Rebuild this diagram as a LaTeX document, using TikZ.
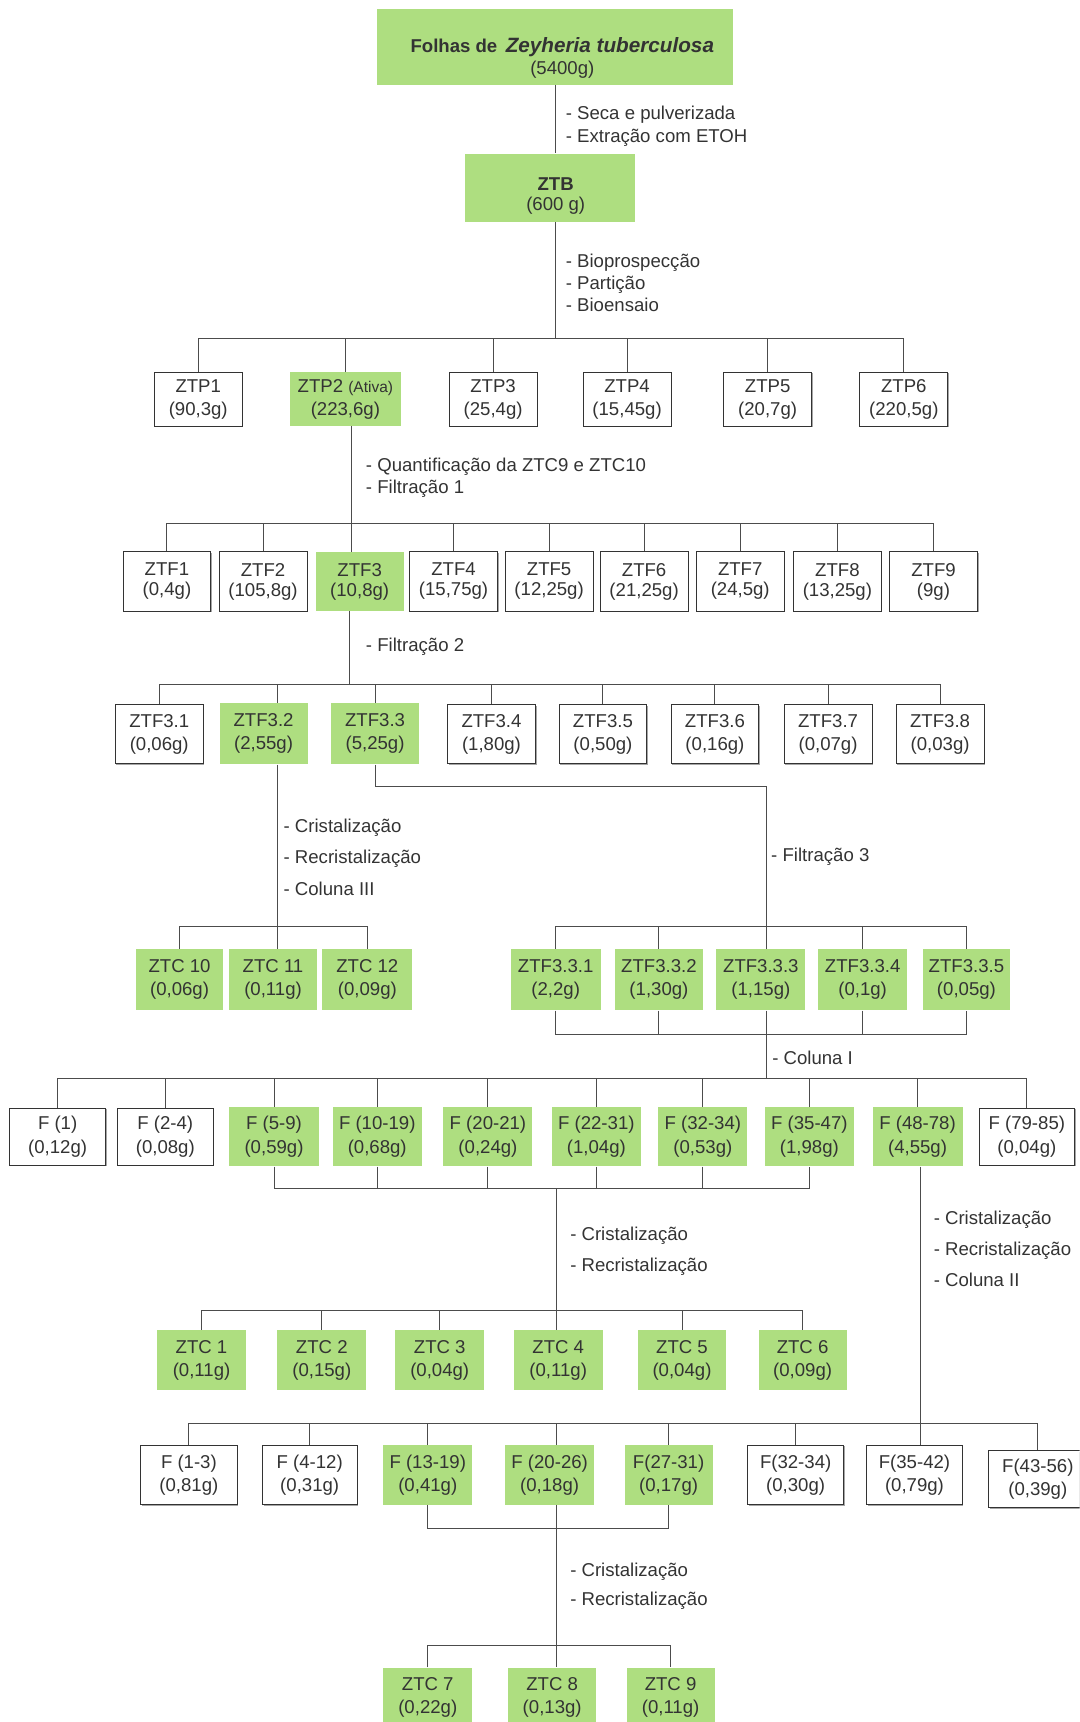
\documentclass[tikz,border=0pt]{standalone}
\usepackage{fontspec}
\setmainfont{Liberation Sans}
\usetikzlibrary{shadows}
\definecolor{leaf}{HTML}{AEDE80}
\definecolor{ink}{HTML}{333333}
\newlength{\pxu}
\setlength{\pxu}{0.0274cm}

\begin{document}
\begin{tikzpicture}[x=0.0274cm, y=-0.0274cm,
  box/.style={rectangle, minimum width=80\pxu, minimum height=54\pxu, inner sep=0pt, align=center, text=ink, font=\fontsize{13.2}{16.4}\selectfont},
  wbox/.style={box, draw=black!80, line width=0.6pt, fill=white, drop shadow={shadow xshift=0.8pt, shadow yshift=-0.8pt, fill=black!35, opacity=1}},
  gbox/.style={box, fill=leaf},
  tight/.style={font=\fontsize{13.2}{14.2}\selectfont},
  note/.style={anchor=west, inner sep=0pt, align=left, text=ink, font=\fontsize{13.2}{15.8}\selectfont},
  wide/.style={font=\fontsize{13.2}{22.2}\selectfont},
  link/.style={draw=black!70, line width=0.7pt}
]
  \useasboundingbox (0,0) rectangle (983,1568);
  \clip (0,0) rectangle (983,1568);

  % plant material and crude extract
  \node[gbox, minimum width=324\pxu, minimum height=69\pxu] (top) at (505,42.5) {};
  \node[box, minimum height=0pt, font=\fontsize{13.2}{15.6}\selectfont] (toptext) at (512,53) {{\bfseries Folhas de}\hspace{6pt}{\fontsize{14.7}{15.6}\selectfont\bfseries\itshape Zeyheria tuberculosa}\\(5400g)};
  \node[gbox, minimum width=155\pxu, minimum height=62\pxu] (ztb) at (501,171) {};
  \node[box, minimum height=0pt, font=\fontsize{13.2}{14.8}\selectfont] (ztbtext) at (506,178.5) {\textbf{ZTB}\\(600 g)};

  % partitions
  \node[wbox, minimum height=49\pxu] (ztp1) at (180.5,363.5) {ZTP1\\(90,3g)};
  \node[gbox, minimum height=49\pxu, minimum width=101\pxu] (ztp2) at (314.5,363.5) {ZTP2 {\fontsize{11}{12}\selectfont(Ativa)}\\(223,6g)};
  \node[wbox, minimum height=49\pxu] (ztp3) at (449,363.5) {ZTP3\\(25,4g)};
  \node[wbox, minimum height=49\pxu] (ztp4) at (571,363.5) {ZTP4\\(15,45g)};
  \node[wbox, minimum height=49\pxu] (ztp5) at (699,363.5) {ZTP5\\(20,7g)};
  \node[wbox, minimum height=49\pxu] (ztp6) at (823,363.5) {ZTP6\\(220,5g)};

  % filtration 1
  \node[wbox, tight] (ztf1) at (152,529.5) {ZTF1\\(0,4g)};
  \node[wbox, tight] (ztf2) at (239.5,529.5) {ZTF2\\(105,8g)};
  \node[gbox, tight] (ztf3) at (327.5,529.5) {ZTF3\\(10,8g)};
  \node[wbox, tight] (ztf4) at (413,529.5) {ZTF4\\(15,75g)};
  \node[wbox, tight] (ztf5) at (500,529.5) {ZTF5\\(12,25g)};
  \node[wbox, tight] (ztf6) at (586.5,529.5) {ZTF6\\(21,25g)};
  \node[wbox, tight] (ztf7) at (674,529.5) {ZTF7\\(24,5g)};
  \node[wbox, tight] (ztf8) at (762.5,529.5) {ZTF8\\(13,25g)};
  \node[wbox, tight] (ztf9) at (850,529.5) {ZTF9\\(9g)};

  % filtration 2
  \node[wbox] (ztf31) at (145,668.5) {ZTF3.1\\(0,06g)};
  \node[gbox, minimum height=56\pxu] (ztf32) at (240,668) {ZTF3.2\\(2,55g)};
  \node[gbox, minimum height=56\pxu] (ztf33) at (341.5,668) {ZTF3.3\\(5,25g)};
  \node[wbox] (ztf34) at (447.5,668.5) {ZTF3.4\\(1,80g)};
  \node[wbox] (ztf35) at (549,668.5) {ZTF3.5\\(0,50g)};
  \node[wbox] (ztf36) at (651,668.5) {ZTF3.6\\(0,16g)};
  \node[wbox] (ztf37) at (754,668.5) {ZTF3.7\\(0,07g)};
  \node[wbox] (ztf38) at (856,668.5) {ZTF3.8\\(0,03g)};

  % column III and filtration 3
  \node[gbox, minimum height=56\pxu] (ztc10) at (163.5,892) {ZTC 10\\(0,06g)};
  \node[gbox, minimum height=56\pxu] (ztc11) at (248.6,892) {ZTC 11\\(0,11g)};
  \node[gbox, minimum height=56\pxu, minimum width=82\pxu] (ztc12) at (334.5,892) {ZTC 12\\(0,09g)};
  \node[gbox, minimum height=56\pxu, minimum width=82\pxu] (ztf331) at (506,892) {ZTF3.3.1\\(2,2g)};
  \node[gbox, minimum height=56\pxu] (ztf332) at (600,892) {ZTF3.3.2\\(1,30g)};
  \node[gbox, minimum height=56\pxu, minimum width=81\pxu] (ztf333) at (692.8,892) {ZTF3.3.3\\(1,15g)};
  \node[gbox, minimum height=56\pxu, minimum width=81\pxu] (ztf334) at (785.5,892) {ZTF3.3.4\\(0,1g)};
  \node[gbox, minimum height=56\pxu] (ztf335) at (880,892) {ZTF3.3.5\\(0,05g)};

  % column I
  \node[wbox, minimum height=52\pxu, minimum width=87\pxu] (f1) at (52.5,1035) {F (1)\\(0,12g)};
  \node[wbox, minimum height=52\pxu, minimum width=87\pxu] (f2) at (150.5,1035) {F (2-4)\\(0,08g)};
  \node[gbox, minimum height=54\pxu, minimum width=82\pxu] (f3) at (249.5,1035) {F (5-9)\\(0,59g)};
  \node[gbox, minimum height=54\pxu, minimum width=81\pxu] (f4) at (343.5,1035) {F (10-19)\\(0,68g)};
  \node[gbox, minimum height=54\pxu, minimum width=81\pxu] (f5) at (444.3,1035) {F (20-21)\\(0,24g)};
  \node[gbox, minimum height=54\pxu, minimum width=81\pxu] (f6) at (543,1035) {F (22-31)\\(1,04g)};
  \node[gbox, minimum height=54\pxu, minimum width=81\pxu] (f7) at (640,1035) {F (32-34)\\(0,53g)};
  \node[gbox, minimum height=54\pxu, minimum width=81\pxu] (f8) at (737,1035) {F (35-47)\\(1,98g)};
  \node[gbox, minimum height=54\pxu, minimum width=82\pxu] (f9) at (835.5,1035) {F (48-78)\\(4,55g)};
  \node[wbox, minimum height=52\pxu, minimum width=87\pxu] (f10) at (935,1035) {F (79-85)\\(0,04g)};

  % crystals from column I
  \node[gbox, minimum height=55\pxu, minimum width=81\pxu] (ztc1) at (183.5,1238.5) {ZTC 1\\(0,11g)};
  \node[gbox, minimum height=55\pxu, minimum width=81\pxu] (ztc2) at (293,1238.5) {ZTC 2\\(0,15g)};
  \node[gbox, minimum height=55\pxu, minimum width=81\pxu] (ztc3) at (400.4,1238.5) {ZTC 3\\(0,04g)};
  \node[gbox, minimum height=55\pxu, minimum width=81\pxu] (ztc4) at (508.3,1238.5) {ZTC 4\\(0,11g)};
  \node[gbox, minimum height=55\pxu, minimum width=81\pxu] (ztc5) at (621,1238.5) {ZTC 5\\(0,04g)};
  \node[gbox, minimum height=55\pxu] (ztc6) at (730.8,1238.5) {ZTC 6\\(0,09g)};

  % column II
  \node[wbox, minimum width=88\pxu] (g1) at (172,1343) {F (1-3)\\(0,81g)};
  \node[wbox, minimum width=86\pxu] (g2) at (282,1343) {F (4-12)\\(0,31g)};
  \node[gbox, minimum width=81\pxu] (g3) at (389.5,1343) {F (13-19)\\(0,41g)};
  \node[gbox, minimum width=81\pxu] (g4) at (500.5,1343) {F (20-26)\\(0,18g)};
  \node[gbox] (g5) at (608.8,1343) {F(27-31)\\(0,17g)};
  \node[wbox, minimum width=87\pxu] (g6) at (724.5,1343) {F(32-34)\\(0,30g)};
  \node[wbox, minimum width=87\pxu] (g7) at (832.7,1343) {F(35-42)\\(0,79g)};
  \node[wbox, minimum width=90\pxu, minimum height=52\pxu] (g8) at (945,1347) {F(43-56)\\(0,39g)};

  % crystals from column II
  \node[gbox, minimum height=55\pxu, minimum width=81\pxu] (ztc7) at (389.5,1546) {ZTC 7\\(0,22g)};
  \node[gbox, minimum height=55\pxu] (ztc8) at (502.8,1546) {ZTC 8\\(0,13g)};
  \node[gbox, minimum height=55\pxu] (ztc9) at (610.6,1546) {ZTC 9\\(0,11g)};

  % step notes
  \node[note] (n1) at (515,115) {- Seca e pulverizada\\- Extração com ETOH};
  \node[note] (n2) at (515,257.5) {- Bioprospecção\\- Partição\\- Bioensaio};
  \node[note] (n3) at (333,435) {- Quantificação da ZTC9 e ZTC10\\- Filtração 1};
  \node[note] (n4) at (333,589) {- Filtração 2};
  \node[note, wide] (n5) at (258,780.5) {- Cristalização\\- Recristalização\\- Coluna III};
  \node[note] (n6) at (702,780) {- Filtração 3};
  \node[note] (n7) at (703,963) {- Coluna I};
  \node[note, wide] (n8) at (519,1139.5) {- Cristalização\\- Recristalização};
  \node[note, wide] (n9) at (850,1137) {- Cristalização\\- Recristalização\\- Coluna II};
  \node[note, font=\fontsize{13.2}{21}\selectfont] (n10) at (519,1444.5) {- Cristalização\\- Recristalização};

  % bar levels and trunks
  \coordinate (bZTP) at (0,308);
  \coordinate (bZTF) at (0,477);
  \coordinate (bF3) at (0,623);
  \coordinate (kF33) at (0,716.6);
  \coordinate (bC10) at (0,843.6);
  \coordinate (rF33) at (0,942);
  \coordinate (bF) at (0,982);
  \coordinate (rF) at (0,1082);
  \coordinate (bC1) at (0,1193.5);
  \coordinate (bG) at (0,1296);
  \coordinate (rG) at (0,1391.7);
  \coordinate (bC7) at (0,1498.6);
  \coordinate (t506) at (506,0);
  \coordinate (t320) at (320,0);
  \coordinate (t318) at (318,0);
  \coordinate (t253) at (253,0);
  \coordinate (t697) at (697.5,0);
  \coordinate (t507) at (507,0);
  \coordinate (t838) at (838,0);

  \draw[link] (top.south -| t506) -- (ztb.north -| t506);
  \draw[link] (ztb.south -| t506) -- (t506 |- bZTP);
  \draw[link] (ztp1) |- (ztp6 |- bZTP) -- (ztp6);
  \draw[link] (ztp2) -- (ztp2 |- bZTP);
  \draw[link] (ztp3) -- (ztp3 |- bZTP);
  \draw[link] (ztp4) -- (ztp4 |- bZTP);
  \draw[link] (ztp5) -- (ztp5 |- bZTP);

  \draw[link] (ztp2.south -| t320) -- (ztf3.north -| t320);
  \draw[link] (ztf1) |- (ztf9 |- bZTF) -- (ztf9);
  \draw[link] (ztf2) -- (ztf2 |- bZTF);
  \draw[link] (ztf4) -- (ztf4 |- bZTF);
  \draw[link] (ztf5) -- (ztf5 |- bZTF);
  \draw[link] (ztf6) -- (ztf6 |- bZTF);
  \draw[link] (ztf7) -- (ztf7 |- bZTF);
  \draw[link] (ztf8) -- (ztf8 |- bZTF);

  \draw[link] (ztf3.south -| t318) -- (t318 |- bF3);
  \draw[link] (ztf31) |- (ztf38 |- bF3) -- (ztf38);
  \draw[link] (ztf32.north -| t253) -- (t253 |- bF3);
  \draw[link] (ztf33) -- (ztf33 |- bF3);
  \draw[link] (ztf34) -- (ztf34 |- bF3);
  \draw[link] (ztf35) -- (ztf35 |- bF3);
  \draw[link] (ztf36) -- (ztf36 |- bF3);
  \draw[link] (ztf37) -- (ztf37 |- bF3);

  \draw[link] (ztf32.south -| t253) -- (ztc11.north -| t253);
  \draw[link] (ztc10) |- (ztc12 |- bC10) -- (ztc12);

  \draw[link] (ztf33) |- (t697 |- kF33) -- (ztf333.north -| t697);
  \draw[link] (ztf331) |- (ztf335 |- bC10) -- (ztf335);
  \draw[link] (ztf332) -- (ztf332 |- bC10);
  \draw[link] (ztf334) -- (ztf334 |- bC10);

  \draw[link] (ztf331.south) |- (ztf335.south |- rF33) -- (ztf335.south);
  \draw[link] (ztf332.south) -- (ztf332.south |- rF33);
  \draw[link] (ztf334.south) -- (ztf334.south |- rF33);
  \draw[link] (ztf333.south -| t697) -- (t697 |- bF);

  \draw[link] (f1) |- (f10 |- bF) -- (f10);
  \draw[link] (f2) -- (f2 |- bF);
  \draw[link] (f3) -- (f3 |- bF);
  \draw[link] (f4) -- (f4 |- bF);
  \draw[link] (f5) -- (f5 |- bF);
  \draw[link] (f6) -- (f6 |- bF);
  \draw[link] (f7) -- (f7 |- bF);
  \draw[link] (f8) -- (f8 |- bF);
  \draw[link] (f9) -- (f9 |- bF);

  \draw[link] (f3.south) |- (f8.south |- rF) -- (f8.south);
  \draw[link] (f4.south) -- (f4.south |- rF);
  \draw[link] (f5.south) -- (f5.south |- rF);
  \draw[link] (f6.south) -- (f6.south |- rF);
  \draw[link] (f7.south) -- (f7.south |- rF);
  \draw[link] (t507 |- rF) -- (ztc4.north -| t507);
  \draw[link] (ztc1) |- (ztc6 |- bC1) -- (ztc6);
  \draw[link] (ztc2) -- (ztc2 |- bC1);
  \draw[link] (ztc3) -- (ztc3 |- bC1);
  \draw[link] (ztc5) -- (ztc5 |- bC1);

  \draw[link] (f9.south -| t838) -- (g7.north -| t838);
  \draw[link] (g1) |- (g8 |- bG) -- (g8);
  \draw[link] (g2) -- (g2 |- bG);
  \draw[link] (g3) -- (g3 |- bG);
  \draw[link] (g4.north -| t507) -- (t507 |- bG);
  \draw[link] (g5) -- (g5 |- bG);
  \draw[link] (g6) -- (g6 |- bG);

  \draw[link] (g3.south) |- (g5.south |- rG) -- (g5.south);
  \draw[link] (g4.south -| t507) -- (ztc8.north -| t507);
  \draw[link] (ztc7) |- (ztc9 |- bC7) -- (ztc9);
\end{tikzpicture}
\end{document}
